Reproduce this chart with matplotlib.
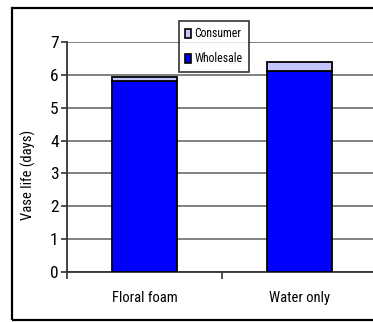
import matplotlib
matplotlib.use("Agg")
import matplotlib.pyplot as plt
from matplotlib.patches import Rectangle

categories = ["Floral foam", "Water only"]
wholesale = [5.8, 6.12]
consumer = [0.12, 0.26]
y_ticks = [0, 1, 2, 3, 4, 5, 6, 7]

plt.rcParams["font.family"] = ["Roboto Condensed", "DejaVu Sans"]

W, H = 373, 322
fig = plt.figure(figsize=(W / 100, H / 100), dpi=100)
fig.patch.set_facecolor("white")

ax = fig.add_axes([67 / W, (H - 272) / H, 310 / W, 230 / H])
ax.set_facecolor("white")

x = list(range(len(categories)))
blue = "#0000FF"
lav = "#C4C4FF"
ax.bar(x, wholesale, width=0.42, color=blue, edgecolor="black", linewidth=1.3, zorder=3)
ax.bar(x, consumer, width=0.42, bottom=wholesale, color=lav, edgecolor="black",
       linewidth=1.3, zorder=3)

ax.set_xlim(-0.5, 1.5)
ax.set_ylim(0, 7)
ax.set_yticks(y_ticks)
ax.yaxis.grid(True, color="#808080", linewidth=1.4, zorder=0)
ax.set_axisbelow(True)

# category boundaries carry the ticks, centers carry the labels
ax.set_xticks([-0.5, 0.5, 1.5])
ax.set_xticklabels([])
ax.set_xticks(x, minor=True)
ax.set_xticklabels(categories, minor=True, fontsize=10.5)
ax.tick_params(axis="x", which="major", length=5, width=1.2, color="#333333")
ax.tick_params(axis="x", which="minor", length=0, pad=14)
ax.tick_params(axis="y", length=4, width=1.2, color="#333333", labelsize=12.5, pad=2)

for s in ["top", "right"]:
    ax.spines[s].set_visible(False)
for s in ["left", "bottom"]:
    ax.spines[s].set_color("#333333")
    ax.spines[s].set_linewidth(1.3)

ax.set_ylabel("Vase life (days)", fontsize=10.5)
ax.yaxis.set_label_coords(-0.1, 0.42)

handles = [
    Rectangle((0, 0), 1, 1, facecolor=lav, edgecolor="black", linewidth=1.2),
    Rectangle((0, 0), 1, 1, facecolor=blue, edgecolor="black", linewidth=1.2),
]
leg = fig.legend(handles, ["Consumer", "Wholesale"], loc="upper left",
                 bbox_to_anchor=(179 / W, (H - 21) / H), fontsize=8.5,
                 frameon=True, fancybox=False, edgecolor="black",
                 handlelength=0.45, handleheight=0.8, handletextpad=0.3,
                 borderpad=0.55, labelspacing=1.0, borderaxespad=0)
leg.get_frame().set_linewidth(1.2)

# outer chart border
border = Rectangle((12 / W, 2 / H), 1.2, (320 - 8) / H, transform=fig.transFigure,
                   fill=False, edgecolor="black", linewidth=1.6, clip_on=False)
fig.add_artist(border)

fig.savefig("out.png", dpi=100, facecolor="white")
